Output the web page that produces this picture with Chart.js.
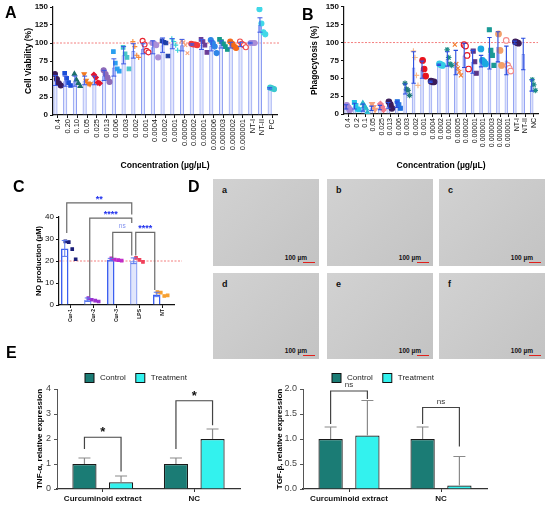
<!DOCTYPE html>
<html>
<head>
<meta charset="utf-8">
<title>Curcuminoid figure</title>
<script src="https://cdn.jsdelivr.net/npm/chart.js@4.4.1/dist/chart.umd.min.js"></script>
<style>
  html, body { margin:0; padding:0; background:#fff; }
  #fig { position:relative; width:550px; height:505px; overflow:hidden; font-family:"Liberation Sans", Arial, sans-serif; }
  #fig canvas { position:absolute; }
  .tag { position:absolute; font-weight:bold; font-size:16px; line-height:1; color:#000; }
  .micro { position:absolute; width:106px; height:87px; background:linear-gradient(135deg,#d2d2d2,#c3c3c3); }
  .micro b { position:absolute; left:9px; top:6px; font-size:9px; color:#111; }
  .micro span { position:absolute; right:12px; bottom:5px; font-size:6.5px; font-weight:bold; color:#111; }
  .micro i { position:absolute; right:4px; bottom:3px; width:12px; height:1.5px; background:#e0201c; }
</style>
</head>
<body>
<div id="fig">
  <canvas id="chartA" width="283" height="175" style="left:0;top:0"></canvas>
  <canvas id="chartB" width="275" height="175" style="left:275px;top:0"></canvas>
  <canvas id="chartC" width="200" height="180" style="left:0;top:150px"></canvas>
  <canvas id="chartE1" width="275" height="145" style="left:0;top:360px"></canvas>
  <canvas id="chartE2" width="275" height="145" style="left:275px;top:360px"></canvas>

  <div class="tag" style="left:5px;top:5px">A</div>
  <div class="tag" style="left:302px;top:7px">B</div>
  <div class="tag" style="left:13px;top:179px">C</div>
  <div class="tag" style="left:188px;top:179px">D</div>
  <div class="tag" style="left:6px;top:345px">E</div>

  <div class="micro" style="left:213px;top:179px"><b>a</b><span>100 µm</span><i></i></div>
  <div class="micro" style="left:327px;top:179px"><b>b</b><span>100 µm</span><i></i></div>
  <div class="micro" style="left:439px;top:179px"><b>c</b><span>100 µm</span><i></i></div>
  <div class="micro" style="left:213px;top:273px;height:86px"><b>d</b><span>100 µm</span><i></i></div>
  <div class="micro" style="left:327px;top:273px;height:86px"><b>e</b><span>100 µm</span><i></i></div>
  <div class="micro" style="left:439px;top:273px;height:86px"><b>f</b><span>100 µm</span><i></i></div>
</div>

<script>
// ================= DATA: A (cell viability) =================
const concA = ['0.4','0.20','0.10','0.05','0.025','0.013','0.006','0.003','0.002','0.001','0.0004','0.0002','0.0001','0.00005','0.00002','0.00001','0.000006','0.000003','0.000002','0.000001','NT-I','NT-II','PC'];
const viabMean = [48,47,47,48,48,55,66,83,89,92,94,97,99,97,98,98,96,98,97,98,100,125,37];
const viabSd = [7,7,7,6,6,7,12,12,10,7,9,10,7,8,1,7,7,5,4,3,1,10,1];
const viabPts = [
  [57,50,44,41],[58,51,45,41],[57,49,44,40],[57,48,44,43],[56,52,45,44],[62,57,52,46],
  [88,72,64,61],[94,85,80,64],[102,95,83,80],[103,98,89,87],[100,99,97,80],[103,101,100,82],
  [106,102,97,90],[103,101,97,86],[99,98,98,97],[105,102,97,87],[104,100,95,86],[105,102,99,95,91],
  [102,99,95,93],[102,99,97,94],[100,100,100],[147,127,115,112],[38,37,36]
];

// ================= DATA: B (phagocytosis) =================
const concB = ['0.4','0.2','0.1','0.05','0.025','0.013','0.006','0.003','0.002','0.001','0.0004','0.0002','0.0001','0.00005','0.00002','0.00001','0.000001','0.000003','0.000002','0.000001','NT-I','NT-II','NC'];
const phagMean = [10,11,9,8,9,12,13,35,65,62,45,69,77,72,82,73,74,85,94,75,100,84,40];
const phagSd = [3,4,5,3,3,4,4,7,22,12,1,1,10,17,17,16,8,22,21,20,2,22,8];
const phagPts = [
  [12,9,6],[16,12,7,6],[15,11,8,2],[14,10,6],[14,10,6],[17,13,8],[17,13,8],
  [43,35,33,26],[88,79,54,40],[75,63,53],[46,45,45],[70,69,68],[90,79,70,68],
  [97,70,64,59,54],[97,95,82,63],[88,73,57],[91,75,73,70],[118,89,82,68],[112,89,68],
  [103,68,64,60],[101,100,99],[],[48,41,33]
];

// ================= DATA: C (NO production) =================
const noGroups = ['Cur-1','Cur-2','Cur-3','LPS','NT'];
const noMean = [25.7,2.4,20.6,20.1,4.8];
const noSd = [3.6,0.8,0.6,1.3,1.0];
const noPts = [[28.9,28.6,25.4,20.8],[3.1,2.4,2.0,1.6],[21.2,20.6,20.4,20.2],[21.4,20.5,19.6],[5.9,5.6,4.1,4.4]];
const noSig = [
  {a:0, b:3, top:46.4, l:32.7, r:41.1, text:'**'},
  {a:1, b:3, top:39.5, l:3.8, r:37.3, text:'****'},
  {a:2, b:3, top:33, l:21.3, r:22.5, text:'ns'},
  {a:3, b:4, top:33, l:22.5, r:6.8, text:'****'}
];

// ================= DATA: E (gene expression) =================
const geneGroups = ['Curcuminoid extract','NC'];
const tnfControl = [1.0,1.0];
const tnfControlSd = [0.24,0.24];
const tnfTreat = [0.27,2.0];
const tnfTreatSd = [0.25,0.4];
const tnfSig = [
  {a:0, b:0, top:2.07, l:1.6, r:0.7, text:'*'},
  {a:1, b:1, top:3.53, l:1.6, r:2.55, text:'*'}
];
const tgfControl = [1.0,1.0];
const tgfControlSd = [0.24,0.24];
const tgfTreat = [1.07,0.07];
const tgfTreatSd = [0.7,0.58];
const tgfSig = [
  {a:0, b:0, top:1.96, l:1.3, r:1.8, text:'ns'},
  {a:1, b:1, top:1.63, l:1.3, r:0.85, text:'ns'}
];

// ================= POINT STYLES =================
const colorA = ['#3b1c5a','#1c4fd8','#1b6f6a','#f47b20','#e3162f','#8d6ab8','#2a9ff0','#47c3c9','#f58a3c','#e8232f','#aa8fd8','#1f3fa8','#34d1d6','#f7a27a','#f23a3a','#6b3d96','#2f86e8','#159a8c','#f56a18','#f04a4a','#aa8fd8','#40d8e8','#3cc8d0'];
const shapeA = ['circle','rect','triangle','triDown','rectRot','circle','rect','rect','cross','circle','circle','rect','cross','crossRot','circle','rect','circle','rect','circle','circle','circle','circle','circle'];
const hollowA = [9,19];
const colorB = ['#a98ad6','#22c4e8','#2bb8cc','#f6a27c','#f27c8c','#3b1c5a','#1f6fe0','#1e7a7a','#f7b98a','#e8141e','#3b1c5a','#34cde6','#1e8c88','#f47a2a','#e8141e','#5a3587','#1aa8e0','#1a9a96','#f4a068','#f48a8a','#3b1c5a','#1e8c88','#1e8c88'];
const shapeB = ['circle','rect','triangle','triDown','rectRot','circle','rect','star','cross','circle','circle','circle','star','crossRot','circle','rect','circle','rect','circle','circle','circle','circle','star'];
const hollowB = [14,19];
const colorC = ['#1b1f7a','#9b30d0','#c02ac8','#f0405a','#f7a030'];

Chart.defaults.font.family = '"Liberation Sans", Arial, sans-serif';
Chart.defaults.color = '#111';

// spread the dots of a group a little sideways around the bar centre
function jitter(groups, spread){
  const out = [];
  groups.forEach((vals, i) => {
    vals.forEach((v, j) => out.push({x: i + (j - (vals.length - 1) / 2) * spread, y: v, c: i}));
  });
  return out;
}

function dotSet(groups, spread, colors, shapes, hollow, radius){
  return {
    type: 'scatter', xAxisID: 'xp', order: 1,
    data: jitter(groups, spread),
    pointRadius: radius,
    pointBorderWidth: 1.1,
    pointStyle: c => c.raw ? (shapes[c.raw.c] === 'triDown' ? 'triangle' : shapes[c.raw.c]) : 'circle',
    pointRotation: c => c.raw && shapes[c.raw.c] === 'triDown' ? 180 : 0,
    pointBorderColor: c => c.raw ? colors[c.raw.c] : '#000',
    pointBackgroundColor: c => c.raw ? (hollow.includes(c.raw.c) ? '#fff' : colors[c.raw.c]) : '#000'
  };
}

// hidden linear axis that lines up with the category bars, used for the dots
function dotAxis(n){
  return { type:'linear', display:false, offset:false, grid:{offset:false}, min:-0.5, max:n - 0.5 };
}

// ================= PLUGINS =================
const errBars = {
  id: 'errBars',
  afterDatasetsDraw(chart, args, o){
    if(!o.sets) return;
    const ctx = chart.ctx, y = chart.scales.y;
    o.sets.forEach(s => {
      const meta = chart.getDatasetMeta(s.ds);
      const vals = chart.data.datasets[s.ds].data;
      ctx.save();
      ctx.strokeStyle = s.color;
      ctx.lineWidth = s.width || 1;
      meta.data.forEach((bar, i) => {
        const m = vals[i], sd = s.sd[i];
        const top = y.getPixelForValue(m + sd);
        const bot = y.getPixelForValue(s.upper ? m : m - sd);
        ctx.beginPath();
        ctx.moveTo(bar.x, top); ctx.lineTo(bar.x, bot);
        ctx.moveTo(bar.x - s.cap, top); ctx.lineTo(bar.x + s.cap, top);
        if(!s.upper){ ctx.moveTo(bar.x - s.cap, bot); ctx.lineTo(bar.x + s.cap, bot); }
        ctx.stroke();
      });
      ctx.restore();
    });
  }
};

const refLine = {
  id: 'refLine',
  beforeDatasetsDraw(chart, args, o){
    if(o.value == null) return;
    const ctx = chart.ctx, a = chart.chartArea;
    const py = chart.scales.y.getPixelForValue(o.value);
    ctx.save();
    ctx.strokeStyle = '#f27070';
    ctx.lineWidth = 0.9;
    ctx.setLineDash([2, 1.5]);
    ctx.beginPath();
    ctx.moveTo(a.left, py); ctx.lineTo(a.right + (o.extend || 0), py);
    ctx.stroke();
    ctx.restore();
  }
};

const brackets = {
  id: 'brackets',
  afterDatasetsDraw(chart, args, o){
    if(!o.items) return;
    const ctx = chart.ctx, y = chart.scales.y;
    ctx.save();
    ctx.lineWidth = o.lineWidth || 1;
    o.items.forEach(b => {
      const x1 = chart.getDatasetMeta(b.from[0]).data[b.from[1]].x + (o.inset || 0);
      const x2 = chart.getDatasetMeta(b.to[0]).data[b.to[1]].x - (o.inset || 0);
      const yt = y.getPixelForValue(b.top);
      ctx.strokeStyle = o.lineColor;
      ctx.beginPath();
      ctx.moveTo(x1, y.getPixelForValue(b.l));
      ctx.lineTo(x1, yt);
      ctx.lineTo(x2, yt);
      ctx.lineTo(x2, y.getPixelForValue(b.r));
      ctx.stroke();
      const ns = b.text === 'ns';
      ctx.fillStyle = ns ? o.nsColor : o.starColor;
      ctx.font = ns ? o.nsFont : o.starFont;
      ctx.textAlign = 'center';
      ctx.textBaseline = 'alphabetic';
      ctx.fillText(b.text, (x1 + x2) / 2, yt - (ns ? o.nsGap : o.starGap));
    });
    ctx.restore();
  }
};

const boxLegend = {
  id: 'boxLegend',
  afterDraw(chart, args, o){
    if(o.x == null) return;
    const ctx = chart.ctx;
    let x = chart.chartArea.left + o.x;
    const cy = chart.chartArea.top - o.dy;
    ctx.save();
    ctx.font = '8px "Liberation Sans", Arial, sans-serif';
    ctx.textBaseline = 'middle';
    chart.data.datasets.forEach(ds => {
      ctx.fillStyle = ds.backgroundColor;
      ctx.fillRect(x, cy - 4.5, 9, 9);
      ctx.strokeStyle = '#111';
      ctx.lineWidth = 1;
      ctx.strokeRect(x, cy - 4.5, 9, 9);
      ctx.fillStyle = '#222';
      ctx.fillText(ds.label, x + 15, cy);
      x += 15 + ctx.measureText(ds.label).width + o.gap;
    });
    ctx.restore();
  }
};

Chart.register(errBars, refLine, brackets, boxLegend);

// ================= SHARED AXIS BITS =================
function catAxis(height, size, bold, title){
  return {
    offset: true,
    afterFit: s => { s.height = height; },
    ticks: { autoSkip:false, minRotation:90, maxRotation:90, font:{size:size, weight: bold ? 'bold' : 'normal'}, color:'#111', padding:1 },
    grid: { offset:false, drawOnChartArea:false, tickLength:3, color:'#111' },
    border: { color:'#111', width:1.2 },
    title: title ? { display:true, text:title, font:{size:8.6, weight:'bold'}, color:'#000', padding:{top:0, bottom:4} } : { display:false }
  };
}

function valAxis(width, max, step, title, titleSize, tickFont){
  return {
    min: 0, max: max,
    afterFit: s => { s.width = width; },
    ticks: { stepSize:step, font:tickFont, color:'#111', padding:2 },
    grid: { drawOnChartArea:false, tickLength:3, color:'#111' },
    border: { color:'#111', width:1.2 },
    title: { display:true, text:title, font:{size:titleSize, weight:'bold'}, color:'#000', padding:0 }
  };
}

// ================= CHART A =================
new Chart(document.getElementById('chartA'), {
  type: 'bar',
  data: {
    labels: concA,
    datasets: [
      { data: viabMean, order: 2, backgroundColor: 'rgba(196,205,250,0.45)', borderColor: '#8c9df2', borderWidth: 1, barPercentage: 0.85, categoryPercentage: 1 },
      dotSet(viabPts, 0.2, colorA, shapeA, hollowA, 2.5)
    ]
  },
  options: {
    responsive: false, animation: false,
    layout: { padding: {top:7, left:24, right:6, bottom:0} },
    plugins: {
      legend: {display:false}, tooltip: {enabled:false},
      refLine: { value:100, extend:2 },
      errBars: { sets: [{ ds:0, sd:viabSd, color:'#3a58e6', cap:2.5, width:1 }] }
    },
    scales: {
      x: catAxis(60, 7.5, false, 'Concentration (µg/µL)'),
      xp: dotAxis(concA.length),
      y: valAxis(29, 150, 25, 'Cell Viability (%)', 8.5, {size:8, weight:'bold'})
    }
  }
});

// ================= CHART B =================
new Chart(document.getElementById('chartB'), {
  type: 'bar',
  data: {
    labels: concB,
    datasets: [
      { data: phagMean, order: 2, backgroundColor: 'rgba(190,200,250,0.5)', borderColor: '#93a3f3', borderWidth: 1, barPercentage: 0.85, categoryPercentage: 1 },
      dotSet(phagPts, 0.18, colorB, shapeB, hollowB, 2.8)
    ]
  },
  options: {
    responsive: false, animation: false,
    layout: { padding: {top:6, left:35, right:12, bottom:0} },
    plugins: {
      legend: {display:false}, tooltip: {enabled:false},
      refLine: { value:100 },
      errBars: { sets: [{ ds:0, sd:phagSd, color:'#2a4de0', cap:2.2, width:1.1 }] }
    },
    scales: {
      x: catAxis(61, 7, false, 'Concentration (µg/µL)'),
      xp: dotAxis(concB.length),
      y: valAxis(34, 150, 25, 'Phagocytosis (%)', 8.3, {size:8, weight:'bold'})
    }
  }
});

// ================= CHART C =================
new Chart(document.getElementById('chartC'), {
  type: 'bar',
  data: {
    labels: noGroups,
    datasets: [
      { data: noMean, order: 2,
        backgroundColor: ['rgba(255,255,255,0.6)','rgba(255,255,255,0.6)','rgba(205,214,250,0.6)','rgba(205,214,250,0.6)','rgba(255,255,255,0.6)'],
        borderColor: ['#3b5ff0','#8aa0f5','#3b5ff0','#9aacf5','#3b5ff0'],
        borderWidth: 1.5, barPercentage: 0.65, categoryPercentage: 1 },
      dotSet(noPts, 0.15, colorC, ['rect','rect','rect','rect','rect'], [], 1.8)
    ]
  },
  options: {
    responsive: false, animation: false,
    layout: { padding: {top:67, left:34, right:26, bottom:0} },
    plugins: {
      legend: {display:false}, tooltip: {enabled:false},
      refLine: { value:20, extend:8 },
      errBars: { sets: [{ ds:0, sd:noSd, color:'#5a78ee', cap:3, width:1 }] },
      brackets: {
        items: noSig.map(s => ({from:[0, s.a], to:[0, s.b], top:s.top, l:s.l, r:s.r, text:s.text})),
        lineColor:'#6a6a6a', lineWidth:1.2, inset:2,
        starColor:'#2233ee', starFont:'bold 9px "Liberation Sans", Arial', starGap:1,
        nsColor:'#8090ee', nsFont:'6.5px "Liberation Sans", Arial', nsGap:4
      }
    },
    scales: {
      x: catAxis(25, 5, true, null),
      xp: dotAxis(noGroups.length),
      y: valAxis(25, 40, 10, 'NO production (µM)', 7.5, {size:8})
    }
  }
});

// ================= CHART E =================
function geneChart(id, control, controlSd, treat, treatSd, sig, yMax, yStep, title, pad, yWidth, legendX, tickFmt){
  new Chart(document.getElementById(id), {
    type: 'bar',
    data: {
      labels: geneGroups,
      datasets: [
        { label:'Control', data:control, backgroundColor:'#1b7c75', borderColor:'#1a1a1a', borderWidth:1.2, categoryPercentage:0.8, barPercentage:0.66 },
        { label:'Treatment', data:treat, backgroundColor:'#33f2ee', borderColor:'#1a1a1a', borderWidth:1.2, categoryPercentage:0.8, barPercentage:0.66 }
      ]
    },
    options: {
      responsive: false, animation: false,
      layout: { padding: pad },
      plugins: {
        legend: {display:false}, tooltip: {enabled:false},
        boxLegend: { x:legendX, dy:11, gap:10 },
        errBars: { sets: [
          { ds:0, sd:controlSd, color:'#8a8a8a', cap:6, width:1.2, upper:true },
          { ds:1, sd:treatSd, color:'#8a8a8a', cap:6, width:1.2, upper:true }
        ] },
        brackets: {
          items: sig.map(s => ({from:[0, s.a], to:[1, s.b], top:s.top, l:s.l, r:s.r, text:s.text})),
          lineColor:'#444', lineWidth:1.2, inset:0,
          starColor:'#111', starFont:'bold 13px "Liberation Sans", Arial', starGap:1,
          nsColor:'#333', nsFont:'8px "Liberation Sans", Arial', nsGap:4
        }
      },
      scales: {
        x: {
          afterFit: s => { s.height = 16; },
          ticks: { minRotation:0, maxRotation:0, font:{size:8, weight:'bold'}, color:'#111', padding:2 },
          grid: { offset:false, drawOnChartArea:false, tickLength:3, color:'#333' },
          border: { color:'#333', width:1.2, dash:[2,1.5] }
        },
        y: {
          min:0, max:yMax,
          afterFit: s => { s.width = yWidth; },
          ticks: { stepSize:yStep, font:{size:9}, color:'#444', padding:3, callback: tickFmt },
          grid: { drawOnChartArea:false, tickLength:3, color:'#555' },
          border: { color:'#555', width:1 },
          title: { display:true, text:title, font:{size:8, weight:'bold'}, color:'#000', padding:0 }
        }
      }
    }
  });
}

geneChart('chartE1', tnfControl, tnfControlSd, tnfTreat, tnfTreatSd, tnfSig, 4, 1,
  'TNF-α, relative expression', {top:29, left:35, right:35, bottom:0}, 22, 28, v => v);
geneChart('chartE2', tgfControl, tgfControlSd, tgfTreat, tgfTreatSd, tgfSig, 2, 0.5,
  'TGF-β, relative expression', {top:29, left:0, right:63, bottom:0}, 28, 29, v => v.toFixed(1));
</script>
</body>
</html>
